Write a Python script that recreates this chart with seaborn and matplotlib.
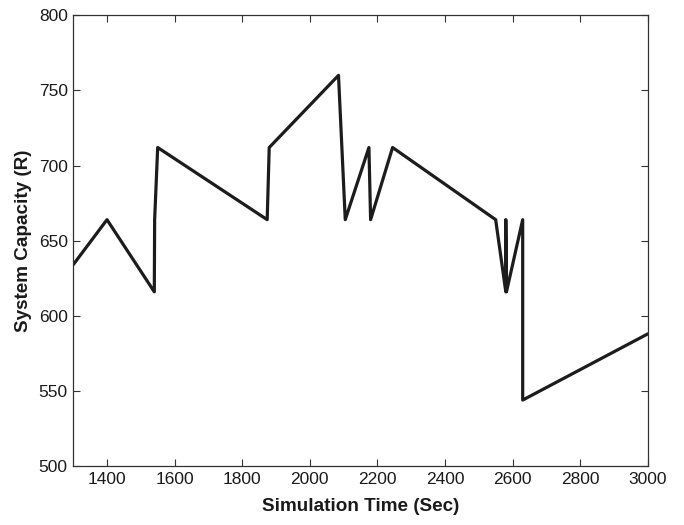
import matplotlib
matplotlib.use('Agg')
import matplotlib.pyplot as plt
import seaborn as sns
import pandas as pd

sns.set_style('ticks')
plt.rcParams['font.family'] = ['Liberation Sans', 'DejaVu Sans']

# simulation time (sec) and system capacity (R)
sim_time = [1300, 1400, 1540, 1541, 1550, 1874, 1880, 2085, 2105,
            2175, 2180, 2245, 2550, 2580, 2580, 2582, 2630, 2630, 3000]
capacity = [634, 664, 616, 664, 712, 664, 712, 760, 664,
            712, 664, 712, 664, 616, 664, 616, 664, 544, 588]

x_ticks = [1400, 1600, 1800, 2000, 2200, 2400, 2600, 2800, 3000]
y_ticks = [500, 550, 600, 650, 700, 750, 800]

df = pd.DataFrame({'time': sim_time, 'capacity': capacity})

fig = plt.figure(figsize=(6.84, 5.25), dpi=100)
ax = fig.add_axes([0.107, 0.112, 0.840, 0.859])
sns.lineplot(x='time', y='capacity', data=df, sort=False, estimator=None,
             color='#1c1c1c', linewidth=2.3, ax=ax)

ax.set_xlim(1300, 3000)
ax.set_ylim(500, 800)
ax.set_xticks(x_ticks)
ax.set_yticks(y_ticks)
ax.tick_params(direction='in', top=True, right=True, length=5,
               width=0.8, color='#333333', labelsize=12.5, pad=4,
               labelcolor='#1a1a1a')
for spine in ax.spines.values():
    spine.set_linewidth(0.9)
    spine.set_color('#333333')

ax.set_xlabel('Simulation Time (Sec)', fontsize=13.6, fontweight='bold',
              labelpad=8, color='#1a1a1a')
ax.set_ylabel('System Capacity (R)', fontsize=13.6, fontweight='bold',
              labelpad=5, color='#1a1a1a')

fig.savefig('out.png', dpi=100)
plt.close('all')
